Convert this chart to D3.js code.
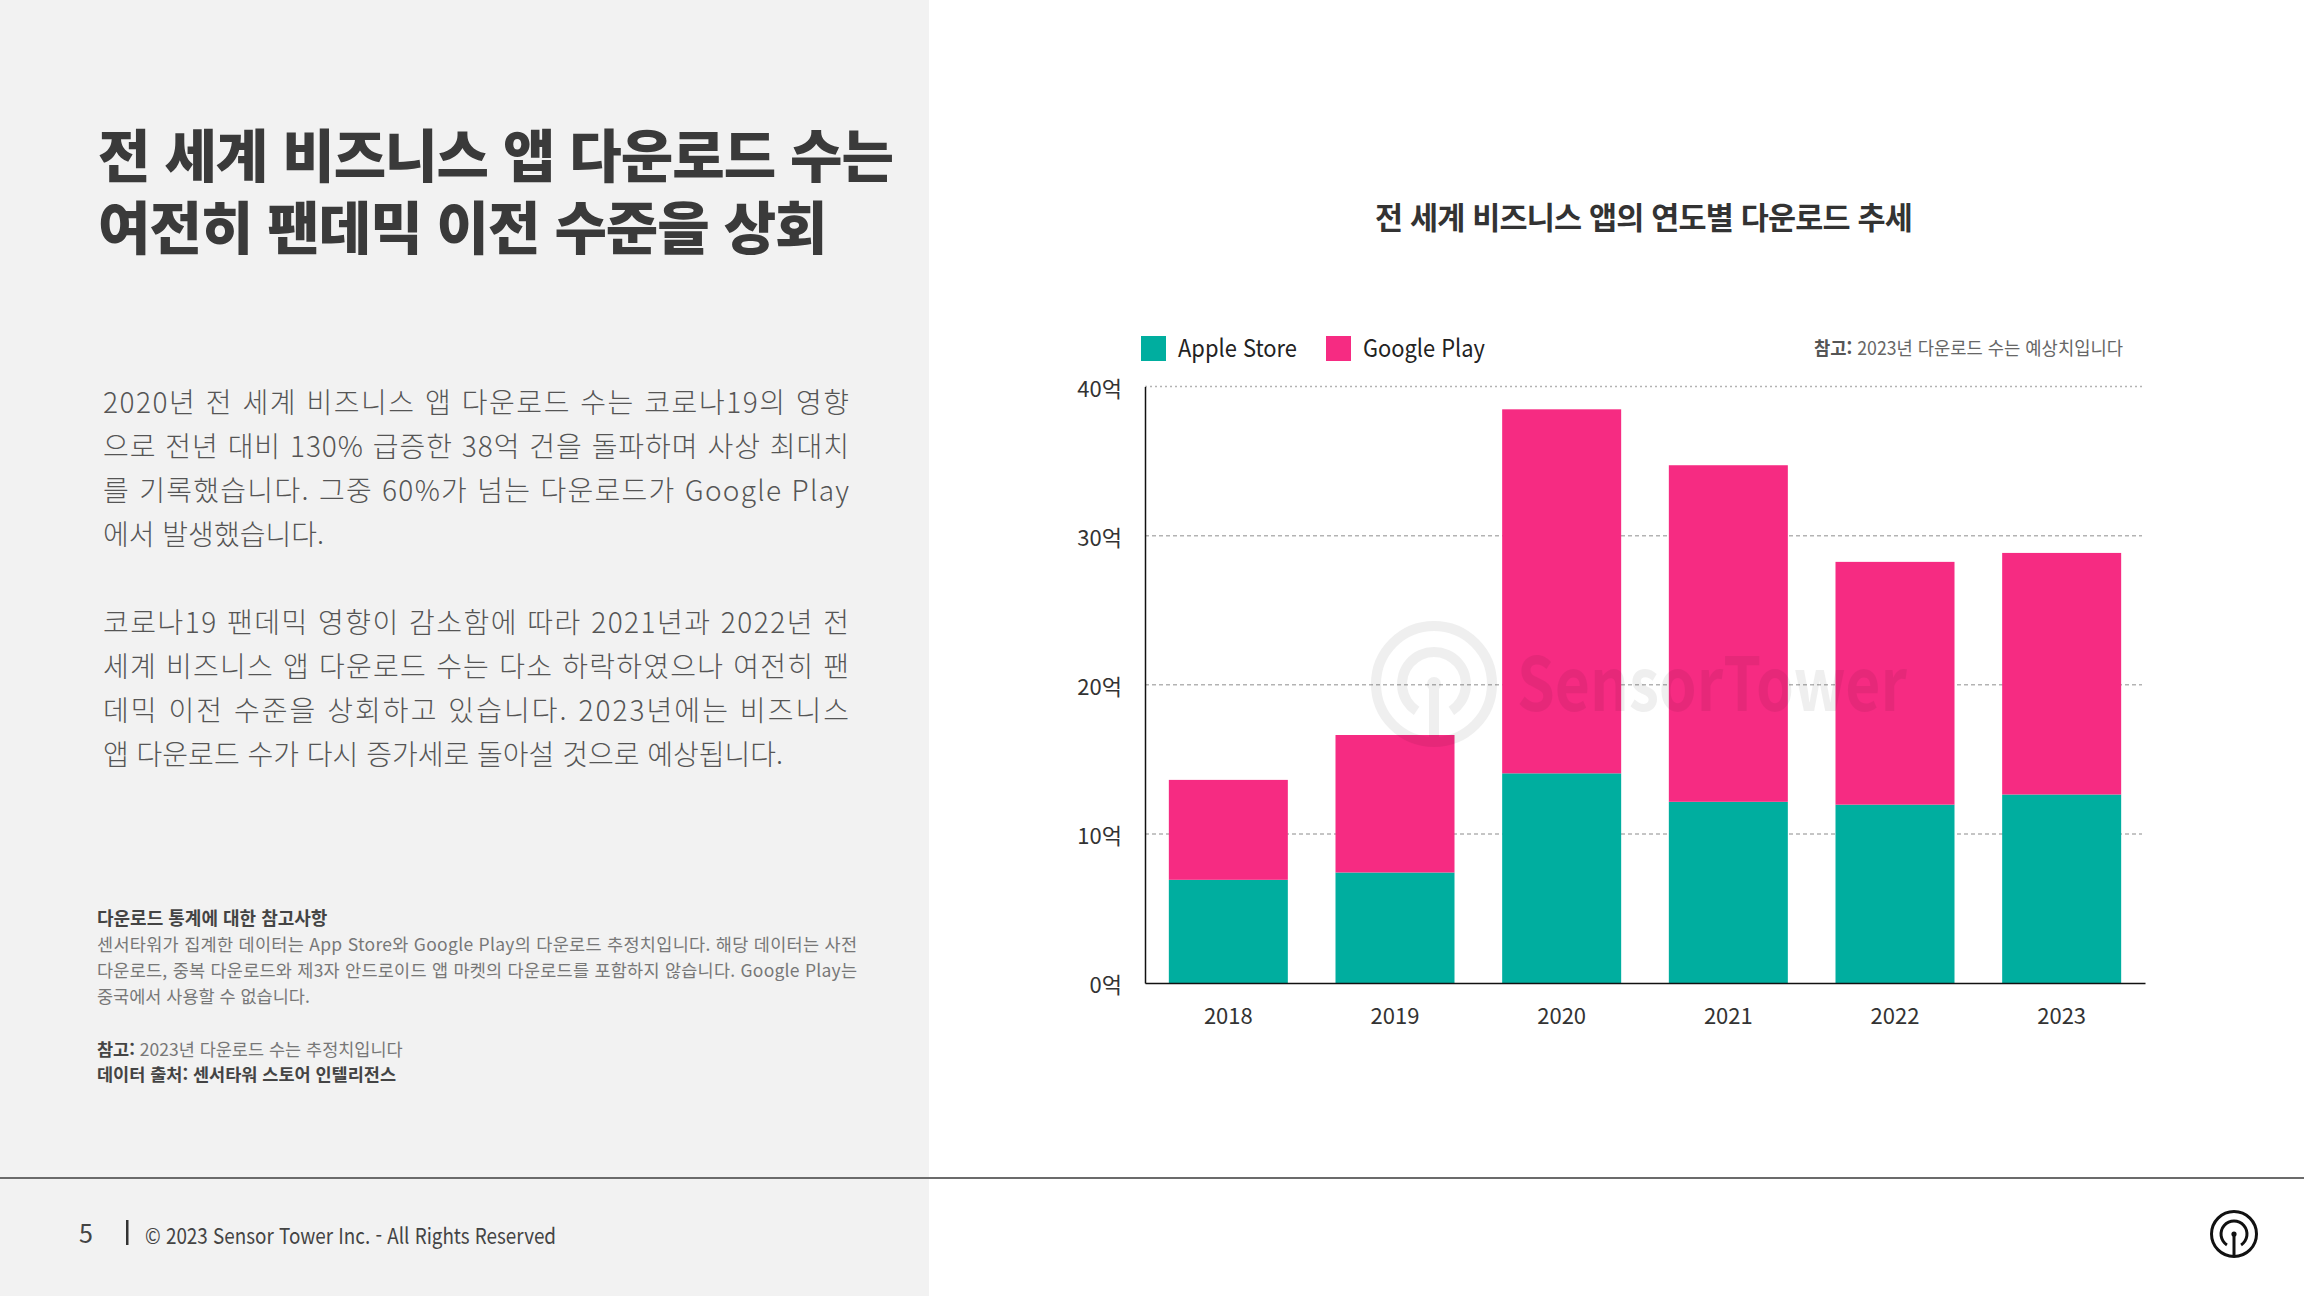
<!DOCTYPE html>
<html lang="ko">
<head>
<meta charset="utf-8">
<script src="https://cdn.jsdelivr.net/npm/d3@7"></script>
<style>
    html, body { margin: 0; padding: 0; background: #fff; }
    svg { display: block; font-family: "Noto Sans CJK KR", "Noto Sans", sans-serif; }
</style>
</head>
<body>
<svg id="slide" width="2304" height="1296"></svg>
<script>
// Chart data (억 downloads)
const years = ['2018', '2019', '2020', '2021', '2022', '2023'];
const appleStore = [6.92, 7.41, 14.06, 12.15, 11.96, 12.64];
const googlePlay = [6.70, 9.22, 24.41, 22.57, 16.28, 16.20];
const seriesNames = ['Apple Store', 'Google Play'];
const seriesColors = ['#00ae9f', '#f62b82'];
const yTicks = [0, 10, 20, 30, 40];

// Slide text
const titleLines = ['전 세계 비즈니스 앱 다운로드 수는', '여전히 팬데믹 이전 수준을 상회'];
const para1Lines = [
    '2020년 전 세계 비즈니스 앱 다운로드 수는 코로나19의 영향',
    '으로 전년 대비 130% 급증한 38억 건을 돌파하며 사상 최대치',
    '를 기록했습니다. 그중 60%가 넘는 다운로드가 Google Play',
    '에서 발생했습니다.'
];
const para2Lines = [
    '코로나19 팬데믹 영향이 감소함에 따라 2021년과 2022년 전',
    '세계 비즈니스 앱 다운로드 수는 다소 하락하였으나 여전히 팬',
    '데믹 이전 수준을 상회하고 있습니다. 2023년에는 비즈니스',
    '앱 다운로드 수가 다시 증가세로 돌아설 것으로 예상됩니다.'
];
const noteHeading = '다운로드 통계에 대한 참고사항';
const noteLines = [
    '센서타워가 집계한 데이터는 App Store와 Google Play의 다운로드 추정치입니다. 해당 데이터는 사전',
    '다운로드, 중복 다운로드와 제3자 안드로이드 앱 마켓의 다운로드를 포함하지 않습니다. Google Play는',
    '중국에서 사용할 수 없습니다.'
];
const chartTitle = '전 세계 비즈니스 앱의 연도별 다운로드 추세';

const svg = d3.select('#slide');

// Backgrounds
svg.append('rect').attr('width', 2304).attr('height', 1296).attr('fill', '#ffffff');
svg.append('rect').attr('width', 929).attr('height', 1296).attr('fill', '#f2f2f2');

// Left column text
function textBlock(lines, opts) {
    const g = svg.append('g');
    lines.forEach((line, i) => {
        const t = g.append('text')
            .attr('x', opts.x)
            .attr('y', opts.y + i * opts.lh)
            .attr('font-size', opts.size)
            .attr('font-weight', opts.weight || 400)
            .attr('fill', opts.color)
            .attr('letter-spacing', opts.ls || 0)
            .text(line);
        if (opts.justify && i < lines.length - 1) {
            t.attr('textLength', opts.width).attr('lengthAdjust', 'spacing');
        }
    });
    return g;
}

// Title: one text element, one tspan per line
const title = svg.append('text')
    .attr('font-size', 57).attr('font-weight', 900)
    .attr('fill', '#3a3a3a').attr('letter-spacing', -1);
titleLines.forEach((line, i) => {
    title.append('tspan')
        .attr('x', 98)
        .attr('y', 177 + i * 72)
        .text(line);
});

textBlock(para1Lines, { x: 103, y: 412.5, lh: 44, size: 28, weight: 300, color: '#555', justify: true, width: 746 });
textBlock(para2Lines, { x: 103, y: 632.5, lh: 44, size: 28, weight: 300, color: '#555', justify: true, width: 746 });

svg.append('text')
    .attr('x', 97).attr('y', 925)
    .attr('font-size', 18).attr('font-weight', 700).attr('fill', '#444')
    .text(noteHeading);
textBlock(noteLines, { x: 97, y: 951, lh: 26, size: 17.5, color: '#777', justify: true, width: 760 });

const ref = svg.append('text').attr('x', 97).attr('y', 1056).attr('font-size', 17.5).attr('fill', '#777');
ref.append('tspan').attr('font-weight', 700).attr('fill', '#444').text('참고:');
ref.append('tspan').text(' 2023년 다운로드 수는 추정치입니다');

svg.append('text')
    .attr('x', 97).attr('y', 1081)
    .attr('font-size', 17.5).attr('font-weight', 700).attr('fill', '#444')
    .text('데이터 출처: 센서타워 스토어 인텔리전스');

// Chart
const x = d3.scaleBand()
    .domain(years)
    .range([1145, 2145])
    .paddingInner(0.286)
    .paddingOuter(0.143);

const y = d3.scaleLinear()
    .domain([0, 40])
    .range([983, 386.5]);

const rows = years.map((yr, i) => ({ year: yr, apple: appleStore[i], google: googlePlay[i] }));
const stacked = d3.stack().keys(['apple', 'google'])(rows);

svg.append('text')
    .attr('x', 1643.5).attr('y', 229)
    .attr('text-anchor', 'middle')
    .attr('font-size', 30.5).attr('font-weight', 700).attr('fill', '#333')
    .attr('letter-spacing', -0.8)
    .text(chartTitle);

// Legend
const legend = svg.append('g');
const legendX = [1141, 1326];
const legendTextW = [119, 122];
seriesNames.forEach((name, i) => {
    legend.append('rect')
        .attr('x', legendX[i]).attr('y', 336)
        .attr('width', 25).attr('height', 25)
        .attr('fill', seriesColors[i]);
    legend.append('text')
        .attr('x', legendX[i] + 37).attr('y', 357)
        .attr('font-size', 24).attr('fill', '#222')
        .attr('textLength', legendTextW[i]).attr('lengthAdjust', 'spacingAndGlyphs')
        .text(name);
});

const note = svg.append('text')
    .attr('x', 1814).attr('y', 355)
    .attr('font-size', 18.5).attr('fill', '#666')
    .attr('textLength', 309).attr('lengthAdjust', 'spacingAndGlyphs');
note.append('tspan').attr('font-weight', 700).attr('fill', '#555').text('참고:');
note.append('tspan').text(' 2023년 다운로드 수는 예상치입니다');

// Gridlines
svg.append('g')
    .selectAll('line')
    .data(yTicks.filter(d => d > 0))
    .join('line')
    .attr('x1', 1145).attr('x2', 2142)
    .attr('y1', d => y(d)).attr('y2', d => y(d))
    .attr('stroke', '#b3b3b3')
    .attr('stroke-width', 1.5)
    .attr('stroke-dasharray', d => d === 40 ? '2,3' : '4,3');

// Bars
svg.append('g')
    .selectAll('g')
    .data(stacked)
    .join('g')
    .attr('fill', (d, i) => seriesColors[i])
    .selectAll('rect')
    .data(d => d)
    .join('rect')
    .attr('x', d => x(d.data.year))
    .attr('width', x.bandwidth())
    .attr('y', d => y(d[1]))
    .attr('height', d => y(d[0]) - y(d[1]));

// Watermark
const wm = svg.append('g').attr('opacity', 0.06);
const wmCx = 1434, wmCy = 684;
wm.append('circle')
    .attr('cx', wmCx).attr('cy', wmCy).attr('r', 58)
    .attr('fill', 'none').attr('stroke', '#000').attr('stroke-width', 10);
wm.append('path')
    .attr('transform', `translate(${wmCx},${wmCy})`)
    .attr('d', d3.arc()({ innerRadius: 27, outerRadius: 37, startAngle: -147 * Math.PI / 180, endAngle: 147 * Math.PI / 180 }))
    .attr('fill', '#000');
wm.append('line')
    .attr('x1', wmCx).attr('x2', wmCx).attr('y1', wmCy).attr('y2', wmCy + 58)
    .attr('stroke', '#000').attr('stroke-width', 10);
wm.append('circle').attr('cx', wmCx).attr('cy', wmCy).attr('r', 7).attr('fill', '#000');
wm.append('text')
    .attr('x', 1517).attr('y', 711)
    .attr('font-size', 74).attr('font-weight', 700).attr('fill', '#000')
    .attr('textLength', 390).attr('lengthAdjust', 'spacingAndGlyphs')
    .text('SensorTower');

// Axes
const yAxis = svg.append('g')
    .attr('transform', 'translate(1145,0)')
    .call(d3.axisLeft(y).tickValues(yTicks).tickSize(0).tickPadding(23).tickFormat(d => d + '억'));
yAxis.select('.domain').attr('stroke', '#111').attr('stroke-width', 1.5);
yAxis.selectAll('text')
    .attr('dy', '0.45em')
    .attr('font-family', '"Noto Sans CJK KR", sans-serif')
    .attr('font-size', 22).attr('fill', '#333');

const xAxis = svg.append('g')
    .attr('transform', 'translate(0,983)')
    .call(d3.axisBottom(x).tickSize(0).tickPadding(25));
xAxis.select('.domain').attr('stroke', '#111').attr('stroke-width', 1.5);
xAxis.selectAll('text')
    .attr('font-family', '"Noto Sans CJK KR", sans-serif')
    .attr('font-size', 22).attr('fill', '#333');

// Footer
svg.append('line')
    .attr('x1', 0).attr('x2', 2304).attr('y1', 1178).attr('y2', 1178)
    .attr('stroke', '#6b6b6b').attr('stroke-width', 2);

svg.append('text')
    .attr('x', 79).attr('y', 1243)
    .attr('font-size', 25).attr('fill', '#444')
    .text('5');
svg.append('rect')
    .attr('x', 126).attr('y', 1220).attr('width', 2.5).attr('height', 25)
    .attr('fill', '#333');
svg.append('text')
    .attr('x', 145).attr('y', 1244)
    .attr('font-size', 22).attr('fill', '#444')
    .attr('textLength', 411).attr('lengthAdjust', 'spacingAndGlyphs')
    .text('© 2023 Sensor Tower Inc. - All Rights Reserved');

// Footer logo
const logo = svg.append('g').attr('transform', 'translate(2234,1234)');
logo.append('circle').attr('r', 22.5).attr('fill', 'none').attr('stroke', '#111').attr('stroke-width', 3);
logo.append('path')
    .attr('d', d3.arc()({ innerRadius: 11.5, outerRadius: 14.5, startAngle: -147 * Math.PI / 180, endAngle: 147 * Math.PI / 180 }))
    .attr('fill', '#111');
logo.append('line').attr('x1', 0).attr('x2', 0).attr('y1', 0).attr('y2', 22.5)
    .attr('stroke', '#111').attr('stroke-width', 3);
logo.append('circle').attr('r', 2.6).attr('fill', '#111');
</script>
</body>
</html>
